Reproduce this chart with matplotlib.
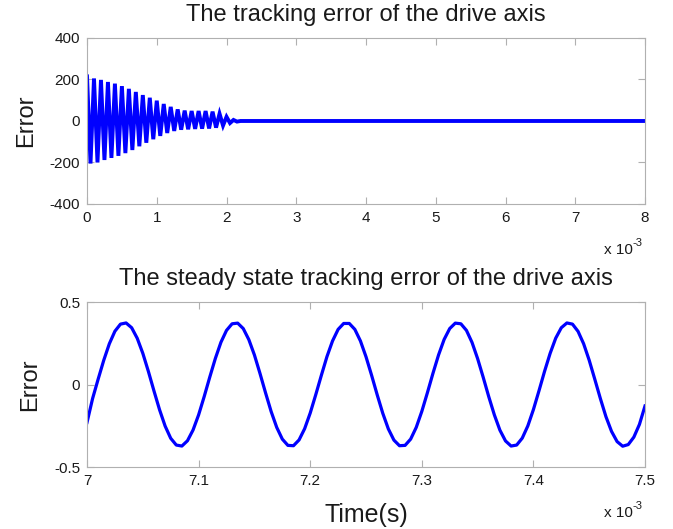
import matplotlib
matplotlib.use("Agg")
import matplotlib.pyplot as plt
import numpy as np

plt.rcParams['font.family'] = ['Liberation Sans', 'DejaVu Sans']
plt.rcParams['axes.unicode_minus'] = False

# ---- Top panel: transient tracking error (time in units of 1e-3 s) ----
peak_times = [0.0, 0.1, 0.2, 0.3, 0.4, 0.5, 0.6, 0.7, 0.8, 0.9, 1.0,
              1.1, 1.2, 1.3, 1.4, 1.5, 1.6, 1.7, 1.8, 1.9, 2.0, 2.1]
peak_vals = [215, 205, 198, 188, 180, 168, 155, 140, 125, 112, 98,
             82, 68, 56, 50, 48, 48, 48, 45, 35, 20, 5]
trough_times = [0.05, 0.15, 0.25, 0.35, 0.45, 0.55, 0.65, 0.75, 0.85, 0.95, 1.05,
                1.15, 1.25, 1.35, 1.45, 1.55, 1.65, 1.75, 1.85, 1.95, 2.05, 2.15]
trough_vals = [-205, -200, -188, -178, -168, -155, -140, -122, -105, -88, -72,
               -58, -48, -42, -40, -38, -37, -36, -32, -22, -10, -3]
tail_times = [2.2, 8.0]
tail_vals = [0, 0]

# ---- Bottom panel: steady-state tracking error (time in units of 1e-3 s) ----
steady_t0 = 7.0
steady_dt = 0.005
steady_vals = [
    -0.230, -0.085, 0.033, 0.147, 0.247, 0.323, 0.366, 0.373, 0.344, 0.280,
    0.189, 0.079, -0.039, -0.153, -0.252, -0.326, -0.367, -0.373, -0.341, -0.276,
    -0.184, -0.073, 0.045, 0.158, 0.256, 0.328, 0.368, 0.372, 0.339, 0.272,
    0.179, 0.067, -0.051, -0.164, -0.260, -0.331, -0.369, -0.371, -0.336, -0.268,
    -0.173, -0.061, 0.056, 0.169, 0.264, 0.334, 0.370, 0.370, 0.334, 0.264,
    0.168, 0.056, -0.062, -0.174, -0.269, -0.337, -0.371, -0.369, -0.331, -0.260,
    -0.163, -0.050, 0.068, 0.179, 0.273, 0.339, 0.372, 0.368, 0.328, 0.255,
    0.157, 0.044, -0.074, -0.184, -0.277, -0.342, -0.373, -0.367, -0.325, -0.251,
    -0.152, -0.038, 0.080, 0.189, 0.281, 0.344, 0.373, 0.366, 0.322, 0.247,
    0.147, 0.032, -0.085, -0.195, -0.284, -0.346, -0.374, -0.364, -0.319, -0.242,
    -0.130,
]

top_xticks = [0, 1, 2, 3, 4, 5, 6, 7, 8]
top_yticks = [-400, -200, 0, 200, 400]
bot_xticks = [7, 7.1, 7.2, 7.3, 7.4, 7.5]
bot_xticklabels = ['7', '7.1', '7.2', '7.3', '7.4', '7.5']
bot_yticks = [-0.5, 0, 0.5]
bot_yticklabels = ['-0.5', '0', '0.5']

# assemble top line: alternate peaks and troughs, then flat tail
top_t, top_v = [], []
for pt, pv, tt, tv in zip(peak_times, peak_vals, trough_times, trough_vals):
    top_t += [pt, tt]
    top_v += [pv, tv]
top_t += tail_times
top_v += tail_vals

bot_t = steady_t0 + steady_dt * np.arange(len(steady_vals))

fig = plt.figure(figsize=(6.73, 5.29), dpi=100)
ax1 = fig.add_axes([0.1293, 0.6144, 0.8291, 0.3138])
ax2 = fig.add_axes([0.1293, 0.1172, 0.8291, 0.3119])

blue = (0, 0, 1)
edge = '#b0b0b0'
txt = '#1a1a1a'

ax1.plot(top_t, top_v, color=blue, lw=2.8, solid_joinstyle='miter')
ax2.plot(bot_t, steady_vals, color=blue, lw=2.3)

ax1.set_xlim(0, 8)
ax1.set_ylim(-400, 400)
ax1.set_xticks(top_xticks)
ax1.set_xticklabels([str(v) for v in top_xticks])
ax1.set_yticks(top_yticks)
ax1.set_yticklabels([str(v) for v in top_yticks])

ax2.set_xlim(7, 7.5)
ax2.set_ylim(-0.5, 0.5)
ax2.set_xticks(bot_xticks)
ax2.set_xticklabels(bot_xticklabels)
ax2.set_yticks(bot_yticks)
ax2.set_yticklabels(bot_yticklabels)

for ax in (ax1, ax2):
    for s in ax.spines.values():
        s.set_color(edge)
        s.set_linewidth(0.8)
    ax.tick_params(direction='in', length=5, width=0.8, color=edge,
                   top=True, right=True, labelsize=11, labelcolor=txt, pad=5)
    ax.set_ylabel('Error', fontsize=17, color=txt, labelpad=9)
    # "x 10^-3" multiplier, MATLAB style
    ax.annotate('x 10', xy=(1.0, 0.0), xycoords='axes fraction',
                xytext=(-9, -36), textcoords='offset points', ha='right',
                va='baseline', fontsize=11, color=txt)
    ax.annotate('-3', xy=(1.0, 0.0), xycoords='axes fraction',
                xytext=(-9, -30), textcoords='offset points', ha='left',
                va='baseline', fontsize=8, color=txt)

ax1.set_title('The tracking error of the drive axis', fontsize=17, color=txt, pad=12)
ax2.set_title('The steady state tracking error of the drive axis', fontsize=17,
              color=txt, pad=12)
ax2.set_xlabel('Time(s)', fontsize=18, color=txt, labelpad=11)

fig.savefig('out.png', dpi=100)
